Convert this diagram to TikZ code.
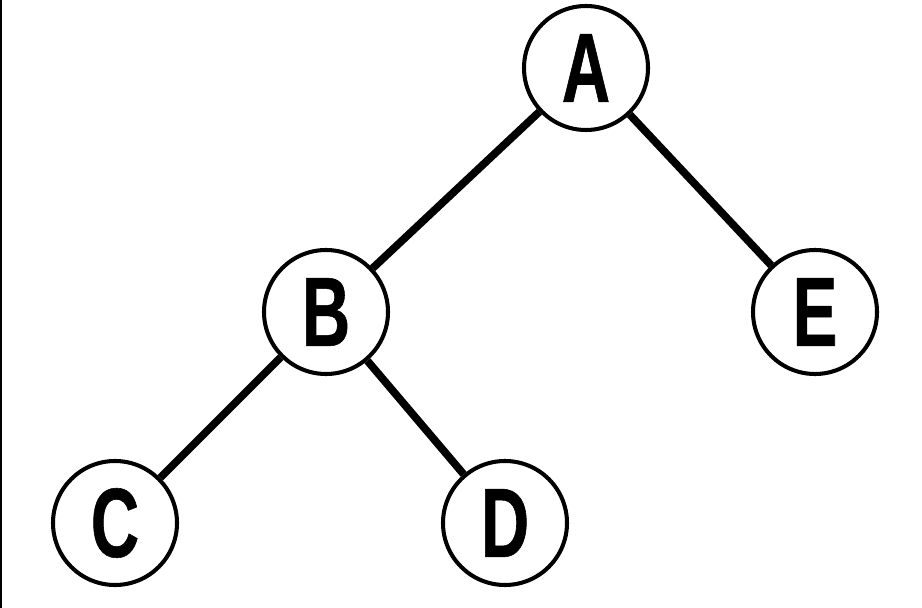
\documentclass[tikz,border=0pt]{standalone}
\usepackage{fontspec}
\usepackage{tikz}
\usetikzlibrary{positioning}
\newfontfamily\treefont[FakeStretch=0.68,FakeBold=0.6]{Liberation Sans Bold}
\tikzset{
  treenode/.style={circle,draw=black,line width=2.3pt,fill=white,minimum size=2.48cm,inner sep=0pt,
    font=\treefont\fontsize{56}{60}\selectfont},
  treeedge/.style={line width=4.4pt,draw=black}
}

\begin{document}
\begin{tikzpicture}[on grid]
  \useasboundingbox (0,0) rectangle (18.44,-12.16);
  \draw[line width=0.04cm] (0.02,0) -- (0.02,-12.16);

  \node[treenode] (A) at (11.72,-1.36) {A};
  \node[treenode,below left=4.88cm and 5.2cm of A] (B) {B};
  \node[treenode,below right=4.88cm and 4.58cm of A] (E) {E};
  \node[treenode,below left=4.22cm and 4.22cm of B] (C) {C};
  \node[treenode,below right=4.22cm and 3.58cm of B] (D) {D};

  \draw[treeedge] (A) -- (B);
  \draw[treeedge] (A) -- (E);
  \draw[treeedge] (B) -- (C);
  \draw[treeedge] (B) -- (D);
\end{tikzpicture}
\end{document}
